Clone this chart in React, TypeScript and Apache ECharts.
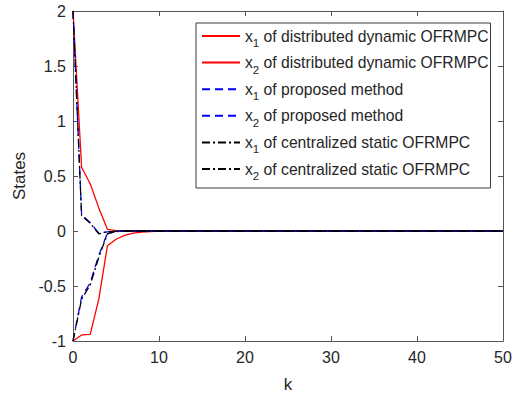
import React, { useEffect, useRef } from "react";
import * as echarts from "echarts";

// Sample instants k = 0 … 50
const k = [
  0, 1, 2, 3, 4, 5, 6, 7, 8, 9, 10, 11, 12, 13, 14, 15, 16, 17, 18, 19, 20,
  21, 22, 23, 24, 25, 26, 27, 28, 29, 30, 31, 32, 33, 34, 35, 36, 37, 38, 39, 40,
  41, 42, 43, 44, 45, 46, 47, 48, 49, 50,
];

// Distributed dynamic OFRMPC
const distX1 = [
  2, 0.58, 0.43, 0.21, 0.015, 0.004, 0.001, 0, 0, 0, 0,
  0, 0, 0, 0, 0, 0, 0, 0, 0, 0,
  0, 0, 0, 0, 0, 0, 0, 0, 0, 0,
  0, 0, 0, 0, 0, 0, 0, 0, 0, 0,
  0, 0, 0, 0, 0, 0, 0, 0, 0, 0,
];
const distX2 = [
  -1, -0.945, -0.94, -0.62, -0.135, -0.075, -0.04, -0.02, -0.01, -0.005, -0.002,
  -0.001, 0, 0, 0, 0, 0, 0, 0, 0, 0,
  0, 0, 0, 0, 0, 0, 0, 0, 0, 0,
  0, 0, 0, 0, 0, 0, 0, 0, 0, 0,
  0, 0, 0, 0, 0, 0, 0, 0, 0, 0,
];

// Proposed method
const propX1 = [
  2, 0.15, 0.075, -0.02, -0.008, -0.002, 0, 0, 0, 0, 0,
  0, 0, 0, 0, 0, 0, 0, 0, 0, 0,
  0, 0, 0, 0, 0, 0, 0, 0, 0, 0,
  0, 0, 0, 0, 0, 0, 0, 0, 0, 0,
  0, 0, 0, 0, 0, 0, 0, 0, 0, 0,
];
const propX2 = [
  -1, -0.6, -0.47, -0.22, -0.02, -0.004, 0, 0, 0, 0, 0,
  0, 0, 0, 0, 0, 0, 0, 0, 0, 0,
  0, 0, 0, 0, 0, 0, 0, 0, 0, 0,
  0, 0, 0, 0, 0, 0, 0, 0, 0, 0,
  0, 0, 0, 0, 0, 0, 0, 0, 0, 0,
];

// Centralized static OFRMPC
const centX1 = [
  2, 0.14, 0.07, -0.025, -0.008, -0.002, 0, 0, 0, 0, 0,
  0, 0, 0, 0, 0, 0, 0, 0, 0, 0,
  0, 0, 0, 0, 0, 0, 0, 0, 0, 0,
  0, 0, 0, 0, 0, 0, 0, 0, 0, 0,
  0, 0, 0, 0, 0, 0, 0, 0, 0, 0,
];
const centX2 = [
  -1, -0.62, -0.49, -0.24, -0.025, -0.005, 0, 0, 0, 0, 0,
  0, 0, 0, 0, 0, 0, 0, 0, 0, 0,
  0, 0, 0, 0, 0, 0, 0, 0, 0, 0,
  0, 0, 0, 0, 0, 0, 0, 0, 0, 0,
  0, 0, 0, 0, 0, 0, 0, 0, 0, 0,
];

const seriesNames = [
  "x1 of distributed dynamic OFRMPC",
  "x2 of distributed dynamic OFRMPC",
  "x1 of proposed method",
  "x2 of proposed method",
  "x1 of centralized static OFRMPC",
  "x2 of centralized static OFRMPC",
];

const FONT = "'Liberation Sans', Arial, Helvetica, sans-serif";
const TEXT = "#262626";
const AXIS = "#555555";

const pair = (ys: number[]) => k.map((x, i) => [x, ys[i]]);

export default function App() {
  const ref = useRef<HTMLDivElement>(null);

  useEffect(() => {
    document.body.style.margin = "0";
    if (!ref.current) return;
    const chart = echarts.init(ref.current, undefined, { renderer: "svg" });

    const line = (name: string, data: number[], color: string, type: any) => ({
      name,
      type: "line",
      data: pair(data),
      showSymbol: false,
      symbol: "none",
      xAxisIndex: 0,
      yAxisIndex: 0,
      lineStyle: { color, width: 1.3, type },
      itemStyle: { color },
      z: 2,
    });

    const axisCommon = {
      axisLine: { show: true, onZero: false, lineStyle: { color: AXIS, width: 1 } },
      axisTick: { show: true, inside: true, length: 5, lineStyle: { color: AXIS } },
      splitLine: { show: false },
    };

    chart.setOption({
      animation: false,
      backgroundColor: "#ffffff",
      grid: { left: 73, right: 12, top: 11, bottom: 56, containLabel: false },
      xAxis: [
        {
          type: "value",
          min: 0,
          max: 50,
          interval: 10,
          position: "bottom",
          ...axisCommon,
          axisLabel: { color: TEXT, fontSize: 16, fontFamily: FONT, margin: 8 },
          name: "k",
          nameLocation: "middle",
          nameGap: 35,
          nameTextStyle: { color: TEXT, fontSize: 17, fontFamily: FONT },
        },
        {
          type: "value",
          min: 0,
          max: 50,
          interval: 10,
          position: "top",
          ...axisCommon,
          axisLabel: { show: false },
        },
      ],
      yAxis: [
        {
          type: "value",
          min: -1,
          max: 2,
          interval: 0.5,
          position: "left",
          ...axisCommon,
          axisLabel: { color: TEXT, fontSize: 16, fontFamily: FONT, margin: 7 },
          name: "States",
          nameLocation: "middle",
          nameGap: 38,
          nameTextStyle: { color: TEXT, fontSize: 17, fontFamily: FONT },
        },
        {
          type: "value",
          min: -1,
          max: 2,
          interval: 0.5,
          position: "right",
          ...axisCommon,
          axisLabel: { show: false },
        },
      ],
      legend: {
        orient: "vertical",
        left: 196,
        top: 23,
        data: seriesNames,
        backgroundColor: "#ffffff",
        borderColor: "#3a3a3a",
        borderWidth: 1,
        borderRadius: 0,
        padding: [5, 2, 6, 5],
        itemWidth: 38,
        itemHeight: 14,
        itemGap: 5.6,
        itemStyle: { opacity: 0 },
        z: 10,
        formatter: (name: string) => {
          const sub = name.charAt(1);
          const rest = name.slice(2);
          return `{v|x}{s|${sub}}{v|${rest}}`;
        },
        textStyle: {
          color: TEXT,
          fontFamily: FONT,
          fontSize: 15.7,
          rich: {
            v: { color: TEXT, fontFamily: FONT, fontSize: 15.7, lineHeight: 26 },
            s: {
              color: TEXT,
              fontFamily: FONT,
              fontSize: 11.5,
              lineHeight: 10,
              verticalAlign: "bottom",
            },
          },
        },
      },
      series: [
        line(seriesNames[0], distX1, "#ff0000", "solid"),
        line(seriesNames[1], distX2, "#ff0000", "solid"),
        line(seriesNames[2], propX1, "#0000ff", [8, 5]),
        line(seriesNames[3], propX2, "#0000ff", [8, 5]),
        line(seriesNames[4], centX1, "#000000", [8, 3, 2, 3]),
        line(seriesNames[5], centX2, "#000000", [8, 3, 2, 3]),
      ],
    });

    return () => chart.dispose();
  }, []);

  return <div ref={ref} style={{ width: 515, height: 398 }} />;
}
